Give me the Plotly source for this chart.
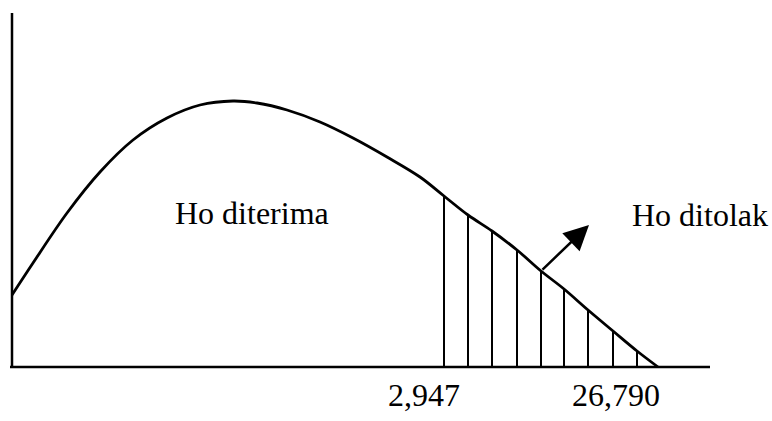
import plotly.graph_objects as go

# Density curve (x: horizontal units, y: height units)
curve_x = [0, 21, 55, 88, 121, 155, 188, 221, 245, 275, 308, 341, 375, 408,
           432, 456, 480, 505, 529, 552, 576, 601, 625, 646]
curve_y = [72, 104, 154, 195, 227, 249, 262, 266, 264, 257, 245, 229, 210, 190,
           171, 152, 136, 117, 96, 78, 57, 36, 16, 0]

# Hatching of the rejection region
hatch_x = [432, 456, 480, 505, 529, 552, 576, 601, 625]
hatch_top = [171, 152, 136, 117, 96, 78, 57, 36, 16]

# Tick labels
tick_labels = ["2,947", "26,790"]
tick_pos = [412, 604]

region_labels = ["Ho diterima", "Ho ditolak"]
region_x = [240, 688]
region_y = [154, 152]

FONT = "Liberation Serif, Times New Roman, serif"

fig = go.Figure()

fig.add_trace(go.Scatter(
    x=curve_x, y=curve_y, mode="lines",
    line=dict(color="black", width=2.8, shape="spline", smoothing=1.0),
    hoverinfo="skip", showlegend=False))

hx, hy = [], []
for x, t in zip(hatch_x, hatch_top):
    hx += [x, x, None]
    hy += [0, t, None]
fig.add_trace(go.Scatter(
    x=hx, y=hy, mode="lines",
    line=dict(color="black", width=2),
    hoverinfo="skip", showlegend=False))

# axes lines
fig.add_shape(type="line", x0=-2, y0=0, x1=698, y1=0,
              line=dict(color="black", width=2.5))
fig.add_shape(type="line", x0=0, y0=0, x1=0, y1=354,
              line=dict(color="black", width=2.5))

# arrow from the curve toward the "Ho ditolak" label
fig.add_annotation(x=577, y=142, ax=529, ay=96, xref="x", yref="y",
                   axref="x", ayref="y", text="", showarrow=True,
                   arrowhead=2, arrowsize=2, arrowwidth=2.5,
                   arrowcolor="black")

for t, x, y in zip(region_labels, region_x, region_y):
    fig.add_annotation(x=x, y=y, text=t, showarrow=False,
                       font=dict(family=FONT, size=32, color="black"))

for t, x in zip(tick_labels, tick_pos):
    fig.add_annotation(x=x, y=-28, text=t, showarrow=False,
                       font=dict(family=FONT, size=32, color="black"))

fig.update_layout(
    width=772, height=421,
    margin=dict(l=0, r=0, t=0, b=0),
    paper_bgcolor="white", plot_bgcolor="white",
    xaxis=dict(range=[-12, 760], visible=False, fixedrange=True),
    yaxis=dict(range=[-54, 367], visible=False, fixedrange=True),
)

fig.write_html("out.html", config={"displayModeBar": False},
               post_script="document.body.style.margin='0';")
